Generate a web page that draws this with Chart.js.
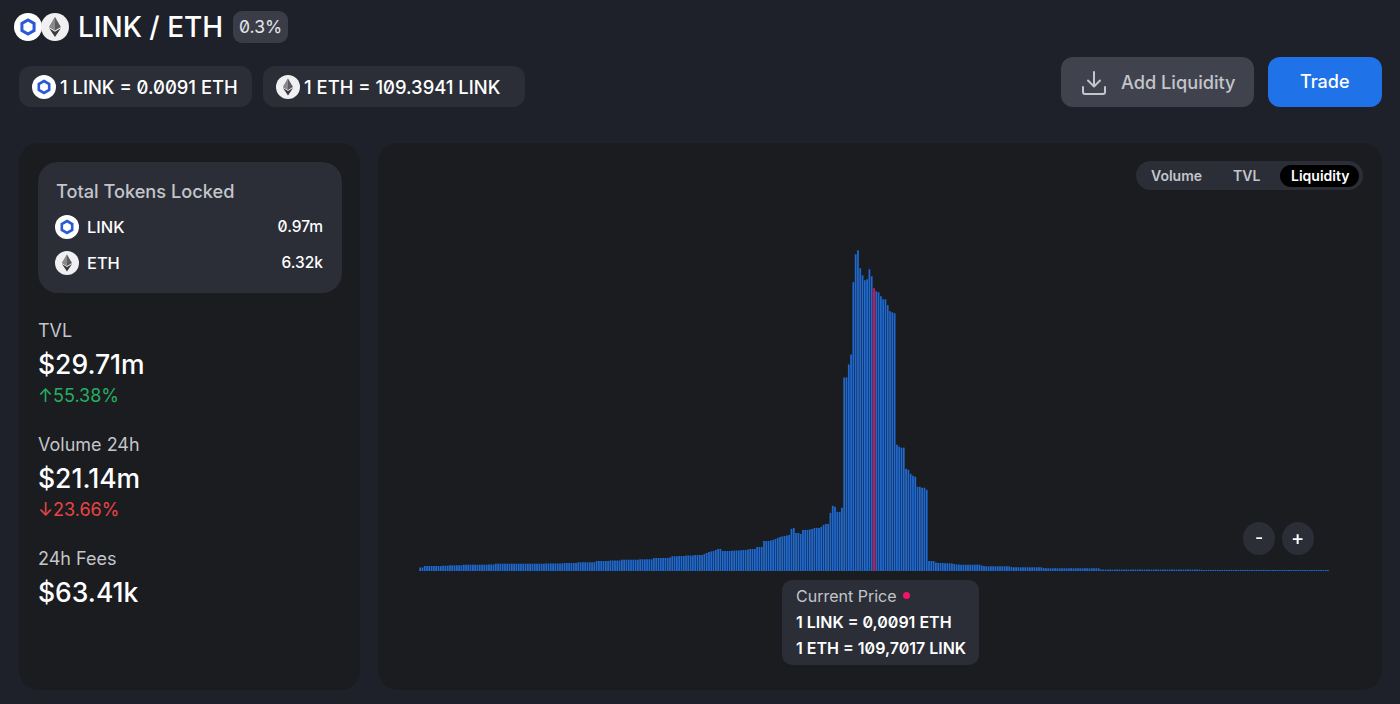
<!DOCTYPE html>
<html>
<head>
<meta charset="utf-8">
<script src="https://cdn.jsdelivr.net/npm/chart.js@4/dist/chart.umd.min.js"></script>
<style>
html, body { margin: 0; width: 1400px; height: 704px; overflow: hidden; background: #1e212a; font-family: Inter, "Noto Sans", sans-serif; color: #fff; }
.box { position: absolute; }
.t { position: absolute; white-space: nowrap; line-height: 40px; height: 40px; font-feature-settings: "zero" 1; }
.m { font-weight: 500; }
.dim { color: #c3c5cb; }
svg.ico { position: absolute; }
#chartWrap { position: absolute; left: 419px; top: 199px; width: 910px; height: 372px; }
</style>
</head>
<body>
<svg width="0" height="0" style="position:absolute">
  <defs>
    <symbol id="link" viewBox="0 0 24 24">
      <circle cx="12" cy="12" r="12" fill="#fff"/>
      <path d="M12 6 L17.2 9 V15 L12 18 L6.8 15 V9 Z" fill="none" stroke="#2a5ada" stroke-width="2.6"/>
    </symbol>
    <symbol id="eth" viewBox="0 0 24 24">
      <circle cx="12" cy="12" r="12" fill="#f0f0f2"/>
      <path d="M12 3.5 L17 12 L12 15 L7 12 Z" fill="#5c5c5f"/>
      <path d="M12 3.5 L12 15 L7 12 Z" fill="#8a8a8d"/>
      <path d="M12 16 L17 13 L12 20.5 L7 13 Z" fill="#3a3a3c"/>
    </symbol>
  </defs>
</svg>

<svg class="ico" style="left:14px;top:13px" width="28" height="28"><use href="#link"/></svg>
<svg class="ico" style="left:41px;top:13px" width="28" height="28"><use href="#eth"/></svg>
<div class="t m" style="left:78px;top:7px;font-size:28px">LINK / ETH</div>
<div class="box" style="left:233px;top:11px;width:55px;height:32px;background:#3a3d47;border-radius:9px"></div>
<div class="t" style="left:239px;top:7px;font-size:17.5px;color:#e4e5e8">0.3%</div>

<div class="box" style="left:19px;top:66px;width:233px;height:41px;background:#2b2e37;border-radius:12px"></div>
<svg class="ico" style="left:32px;top:75px" width="24" height="24"><use href="#link"/></svg>
<div class="t m" style="left:60px;top:67px;font-size:18.4px">1 LINK = 0.0091 ETH</div>
<div class="box" style="left:263px;top:66px;width:262px;height:41px;background:#2b2e37;border-radius:12px"></div>
<svg class="ico" style="left:276px;top:75px" width="24" height="24"><use href="#eth"/></svg>
<div class="t m" style="left:304px;top:67px;font-size:18.4px">1 ETH = 109.3941 LINK</div>

<div class="box" style="left:1061px;top:57px;width:193px;height:50px;background:#40434e;border-radius:12px"></div>
<svg class="ico" style="left:1081px;top:70px" width="26" height="26" viewBox="0 0 26 26" fill="none" stroke="#c3c5cb" stroke-width="2" stroke-linecap="round" stroke-linejoin="round">
  <path d="M13 2 V16 M7 10.5 L13 16.5 L19 10.5 M2 17 V22 Q2 24 4 24 H22 Q24 24 24 22 V17"/>
</svg>
<div class="t m dim" style="left:1121px;top:62px;font-size:18.2px">Add Liquidity</div>
<div class="box" style="left:1268px;top:57px;width:114px;height:50px;background:#1f72e8;border-radius:12px"></div>
<div class="t m" style="left:1300px;top:62px;font-size:18px">Trade</div>

<div class="box" style="left:19px;top:143px;width:341px;height:547px;background:#1a1c20;border-radius:20px"></div>
<div class="box" style="left:378px;top:143px;width:1004px;height:547px;background:#1a1c20;border-radius:20px"></div>

<div class="box" style="left:38px;top:162px;width:304px;height:131px;background:#2b2e37;border-radius:20px"></div>
<div class="t m dim" style="left:56px;top:171px;font-size:18.2px">Total Tokens Locked</div>
<svg class="ico" style="left:55px;top:215px" width="24" height="24"><use href="#link"/></svg>
<div class="t m" style="left:87px;top:207px;font-size:16.4px">LINK</div>
<div class="t m" style="right:1077px;top:207px;font-size:15.5px">0.97m</div>
<svg class="ico" style="left:55px;top:251px" width="24" height="24"><use href="#eth"/></svg>
<div class="t m" style="left:87px;top:243px;font-size:16.4px">ETH</div>
<div class="t m" style="right:1077px;top:243px;font-size:15.5px">6.32k</div>

<div class="t dim" style="left:38px;top:311px;font-size:18px">TVL</div>
<div class="t m" style="left:38px;top:344px;font-size:26.5px">$29.71m</div>
<div class="t" style="left:38px;top:376px;font-size:18px;color:#27ae60">↑55.38%</div>
<div class="t dim" style="left:38px;top:425px;font-size:18px">Volume 24h</div>
<div class="t m" style="left:38px;top:458px;font-size:26.5px">$21.14m</div>
<div class="t" style="left:38px;top:490px;font-size:18px;color:#eb4444">↓23.66%</div>
<div class="t dim" style="left:38px;top:539px;font-size:18px">24h Fees</div>
<div class="t m" style="left:38px;top:572px;font-size:26.5px">$63.41k</div>

<div class="box" style="left:1136px;top:161px;width:227px;height:29px;background:#2b2e37;border-radius:15px"></div>
<div class="box" style="left:1280px;top:165px;width:79px;height:22px;background:#000;border-radius:11px"></div>
<div class="t dim" style="left:1151px;top:156px;font-size:14px;font-weight:600">Volume</div>
<div class="t dim" style="left:1233px;top:156px;font-size:14px;font-weight:600">TVL</div>
<div class="t" style="left:1291px;top:156px;font-size:14px;font-weight:600">Liquidity</div>

<div id="chartWrap"><canvas id="liquidityChart"></canvas></div>

<div class="box" style="left:1243px;top:522px;width:32px;height:33px;background:#2b2e37;border-radius:50%"></div>
<div class="t m" style="left:1255px;top:518px;font-size:18px">-</div>
<div class="box" style="left:1282px;top:522px;width:32px;height:33px;background:#2b2e37;border-radius:50%"></div>
<div class="t m" style="left:1291px;top:518px;font-size:20px">+</div>

<div class="box" style="left:782px;top:580px;width:197px;height:85px;background:#2b2e37;border-radius:10px"></div>
<div class="t dim" style="left:796px;top:576px;font-size:16px">Current Price</div>
<div class="box" style="left:903px;top:592px;width:7px;height:7px;background:#f0146e;border-radius:50%"></div>
<div class="t" style="left:796px;top:602px;font-size:16px;font-weight:600">1 LINK = 0,0091 ETH</div>
<div class="t" style="left:796px;top:628px;font-size:16px;font-weight:600">1 ETH = 109,7017 LINK</div>

<script>
// liquidity per price tick (left to right)
const lowTail = [3.5,3.5,5,5,5,5,5,5,5,5,5.3,5.3,5.3,5.7,5.7,5.7,5.7,5.7,5.7,6.3,6.3,6.3,6.3,6.3,6.3,6.3,6.3,6.3,6.3,6.3,6.5,6.5,6.5,7.3,7.3,7.3,7.3,7.3,7.3,7.3,7.3,7.3,7.3,7.3,7.3,7.3,7.3,7.3,7.3,7.3,7.3,7.3,7.3,7.3,7.3,7.6,7.6,7.6,7.6,7.6,7.6,7.6,7.6,8,8,8,8,8,8,8.7,8.7,8.7,8.7,8.7,8.7,8.7,8.7,10,10,10,10,10,10,10.5,10.5,10.5,10.5,10.5,11.3,11.3,11.3,11.3,11.3,11.3,11.3,11.3,11.7,11.7,11.7,11.7,11.7,11.7,13,13,13,13,13,13,13,13.5,14.7,14.7,14.7,15,15,15,15.5,15.5,15.5,15.5,16,16,16,16,17,18];
const ramp = [19,19.5,20,21,22,22,20,20,20,20,20.3,20.3,20.5,20.5,20.7,21,21,21.5,22,22,22,24,24,24,30,30,30,30.5,31,32,33,34,34.5,35,35.5,36,42,43,38,38];
const core = [37,41,41,41,41.5,42,43,43,43,44,46,47,47,58,65,64,59,59,63,193,193,206,216,288,316,320,302,295,290,291,301,294,282];
const coreAbove = [279,278,274,271,271,265,259,258,257];
const shelf = [126,124,123,123,102,101,97,95,94,84,84,83,83,81];
const highTail = [10,10,10,8.5,8,8,8,7.7,7.7,7.7,7.5,7,6.5,6.5,6.3,6.3,6.3,6.3,6.3,6.3,6.3,6.3,6.3,5.5,5,4.7,4.7,4.7,4.7,4.7,4.7,4.7,4.7,4.7,4.7,4.7,4,3.7,3.7,3.7,3.7,3.7,3.7,3.7,3.7,3.7,3.7,3.7,3.7,3.7,2.9,2.7,2.7,2.7,2.7,2.7,2.7,2.7,2.7,2.7,2.7,2.7,2.7,2.7,2.7,2.7,2.7,2.7,2.7,2.7,2.7,2.7,2.7,2.7,2.7,1.4,1.4,1.4,1.4,1.4,1.4,1.4,1.4,1.4,1.4,1.4,1.4,1.4,1.4,1.4,1.4,1.4,1.4,1.4,1.4,1.4,1.4,1.4,1.4,1.4,1.4,1.4,1.4,1.4,1.4,1.4,1.4,1.4,1.4,1.4,1.4,1.4,1.4,1.4,1.4,1.4,1.4,1.4,1.4,1.1,1.1,1.1,1.1,1.1,1.1,1.1,1.1,1.1,1.1,1.1,1.1,1.1,1.1,1.1,1.1,1.1,1.1,1.1,1.1,1.1,1.1,1.1,1.1,1.1,1.1,1.1,1.1,1,1,1,1,1,1,1,1,1,1,1,1,1,1,1,1,1,1,1,1,1,1,1,1,1,1,1,1];

const liquidity = [].concat(lowTail, ramp, core, coreAbove, shelf, highTail);
const ticks = liquidity.map((v, i) => i);
const currentTick = lowTail.length + ramp.length + core.length - 1;
const barColors = liquidity.map((v, i) => i === currentTick ? '#f01060' : '#1f6ad2');

const canvas = document.getElementById('liquidityChart');
new Chart(canvas.getContext('2d'), {
    type: 'bar',
    data: {
        labels: ticks,
        datasets: [{
            data: liquidity,
            backgroundColor: barColors,
            barPercentage: 0.76,
            categoryPercentage: 1
        }]
    },
    options: {
        responsive: true,
        maintainAspectRatio: false,
        animation: false,
        layout: { padding: 0 },
        plugins: { legend: { display: false }, tooltip: { enabled: false } },
        scales: {
            x: {
                ticks: { display: false },
                grid: { display: false, drawTicks: false },
                border: { color: '#6c7684', width: 1 }
            },
            y: { display: false, min: 0, max: 371 }
        }
    }
});
</script>
</body>
</html>
